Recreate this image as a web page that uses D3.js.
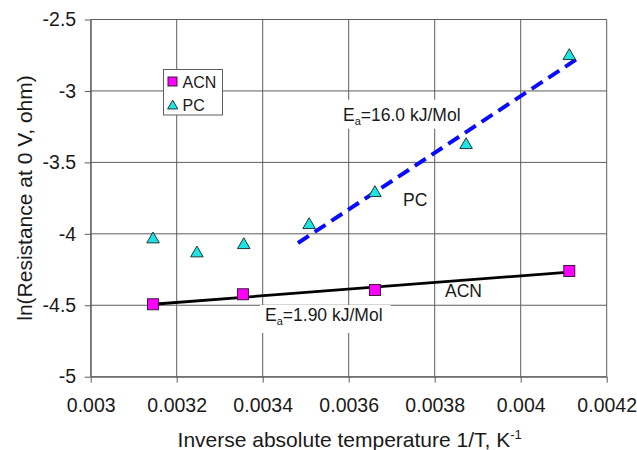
<!DOCTYPE html>
<html>
<head>
<meta charset="utf-8">
<script src="https://cdn.jsdelivr.net/npm/d3@7"></script>
<style>
  html, body { margin: 0; padding: 0; background: #fff; }
  svg { display: block; font-family: "Liberation Sans", Arial, sans-serif; }
</style>
</head>
<body>
<svg id="chart" width="637" height="450"></svg>
<script>
// ---- data ----
const acnX = [0.003145, 0.003354, 0.003661, 0.004113];
const acnY = [-4.493, -4.423, -4.393, -4.260];
const pcX = [0.003145, 0.003247, 0.003356, 0.003508, 0.003661, 0.003873, 0.004113];
const pcY = [-4.038, -4.136, -4.078, -3.938, -3.714, -3.378, -2.755];
const acnFitX = [0.003145, 0.004113];
const acnFitY = [-4.493, -4.268];
const pcFitX = [0.003482, 0.004131];
const pcFitY = [-4.064, -2.776];
const xTicks = [0.003, 0.0032, 0.0034, 0.0036, 0.0038, 0.004, 0.0042];
const xTickLabels = ["0.003", "0.0032", "0.0034", "0.0036", "0.0038", "0.004", "0.0042"];
const yTicks = [-5, -4.5, -4, -3.5, -3, -2.5];
const yTickLabels = ["-5", "-4.5", "-4", "-3.5", "-3", "-2.5"];
const seriesNames = ["ACN", "PC"];

// ---- layout ----
const svg = d3.select("#chart");
const L = 90.7, R = 606.7, T = 19.5, B = 376.7;
const x = d3.scaleLinear().domain([0.003, 0.0042]).range([L, R]);
const y = d3.scaleLinear().domain([-5, -2.5]).range([B, T]);
const gridColor = "#5e5e5e";
const magenta = "#ff00ff", cyan = "#1ee3e3";
const textColor = "#1a1a1a";

// gridlines
const grid = svg.append("g");
grid.selectAll("line.v").data(xTicks).join("line")
  .attr("x1", d => x(d)).attr("x2", d => x(d)).attr("y1", T).attr("y2", B)
  .attr("stroke", gridColor).attr("stroke-width", 1);
grid.selectAll("line.h").data(yTicks).join("line")
  .attr("y1", d => y(d)).attr("y2", d => y(d)).attr("x1", L).attr("x2", R)
  .attr("stroke", gridColor).attr("stroke-width", 1);

// axes
const xAxis = d3.axisBottom(x).tickValues(xTicks)
  .tickFormat((d, i) => xTickLabels[i]).tickSize(6).tickSizeOuter(0).tickPadding(8);
const yAxis = d3.axisLeft(y).tickValues(yTicks)
  .tickFormat((d, i) => yTickLabels[i]).tickSize(6).tickSizeOuter(0).tickPadding(8);
const gx = svg.append("g").attr("transform", `translate(0,${B})`).call(xAxis);
const gy = svg.append("g").attr("transform", `translate(${L},0)`).call(yAxis);
[gx, gy].forEach(g => {
  g.select(".domain").attr("stroke", gridColor);
  g.selectAll(".tick line").attr("stroke", gridColor);
  g.selectAll(".tick text").attr("fill", textColor).style("font-size", "19.5px")
    .style("font-family", "'Liberation Sans', Arial, sans-serif");
});
gx.selectAll(".tick text").attr("dy", "0.71em").attr("y", 21.3);
gy.selectAll(".tick text").attr("x", -14.5);

// annotation label helper (white box behind text)
const annot = svg.append("g");
function label(xp, yp, parts, pad) {
  const g = annot.append("g");
  const rect = g.append("rect").attr("fill", "#fff");
  const t = g.append("text").attr("x", xp).attr("y", yp)
    .style("font-size", "17.5px").attr("fill", textColor);
  parts.forEach(p => {
    const ts = t.append("tspan").text(p.t);
    if (p.sub) ts.style("font-size", "11px").attr("dy", 4);
    if (p.after) ts.attr("dy", -4);
  });
  if (pad) {
    const bb = t.node().getBBox();
    rect.attr("x", bb.x - pad[0]).attr("y", bb.y - pad[1])
      .attr("width", bb.width + pad[0] + pad[2]).attr("height", bb.height + pad[1] + pad[3]);
  }
}

label(343, 120.7, [{t: "E"}, {t: "a", sub: true}, {t: "=16.0 kJ/Mol", after: true}], [5, 5, 6, 2]);
label(265, 321, [{t: "E"}, {t: "a", sub: true}, {t: "=1.90 kJ/Mol", after: true}], [5, 0, 8, 6]);

// fit lines
const line = d3.line().x(d => x(d[0])).y(d => y(d[1]));
svg.append("path").datum(acnFitX.map((v, i) => [v, acnFitY[i]]))
  .attr("d", line).attr("stroke", "#000").attr("stroke-width", 2.8).attr("fill", "none");
svg.append("path").datum(pcFitX.map((v, i) => [v, pcFitY[i]]))
  .attr("d", line).attr("stroke", "#0a0aff").attr("stroke-width", 4)
  .attr("stroke-dasharray", "13,7").attr("fill", "none");

// markers
const tri = d3.symbol().type(d3.symbolTriangle).size(68);
svg.append("g").selectAll("path").data(pcX.map((v, i) => [v, pcY[i]])).join("path")
  .attr("d", tri).attr("transform", d => `translate(${x(d[0])},${y(d[1])})`)
  .attr("fill", cyan).attr("stroke", "#1a3a3a").attr("stroke-width", 1);
const sq = 11;
svg.append("g").selectAll("rect").data(acnX.map((v, i) => [v, acnY[i]])).join("rect")
  .attr("x", d => x(d[0]) - sq / 2).attr("y", d => y(d[1]) - sq / 2)
  .attr("width", sq).attr("height", sq)
  .attr("fill", magenta).attr("stroke", "#3a1a3a").attr("stroke-width", 1);

// series labels
svg.append("text").attr("x", 403).attr("y", 206).style("font-size", "17.5px").attr("fill", textColor).text("PC");
svg.append("text").attr("x", 445).attr("y", 297).style("font-size", "17.5px").attr("fill", textColor).text("ACN");

// legend
const lg = svg.append("g");
lg.append("rect").attr("x", 163.5).attr("y", 69.5).attr("width", 59).attr("height", 45.5)
  .attr("fill", "#fff").attr("stroke", gridColor).attr("stroke-width", 1);
lg.append("rect").attr("x", 168).attr("y", 77).attr("width", 9).attr("height", 9)
  .attr("fill", magenta).attr("stroke", "#3a1a3a").attr("stroke-width", 1);
lg.append("path").attr("d", d3.symbol().type(d3.symbolTriangle).size(45)())
  .attr("transform", "translate(172.7,106)")
  .attr("fill", cyan).attr("stroke", "#1a3a3a").attr("stroke-width", 1);
lg.selectAll("text").data(seriesNames).join("text")
  .attr("x", 182.5).attr("y", (d, i) => 87.5 + i * 23.5)
  .style("font-size", "16px").attr("fill", textColor).text(d => d);

// axis titles
svg.append("text").attr("x", (L + R) / 2 + 1).attr("y", 447).attr("text-anchor", "middle")
  .style("font-size", "21px").attr("fill", textColor)
  .call(t => {
    t.append("tspan").text("Inverse absolute temperature 1/T, K");
    t.append("tspan").text("-1").style("font-size", "13px").attr("dy", -8);
  });
svg.append("text").attr("transform", "translate(31.5,198) rotate(-90)")
  .attr("text-anchor", "middle").style("font-size", "21px").attr("fill", textColor)
  .text("ln(Resistance at 0 V, ohm)");
</script>
</body>
</html>
